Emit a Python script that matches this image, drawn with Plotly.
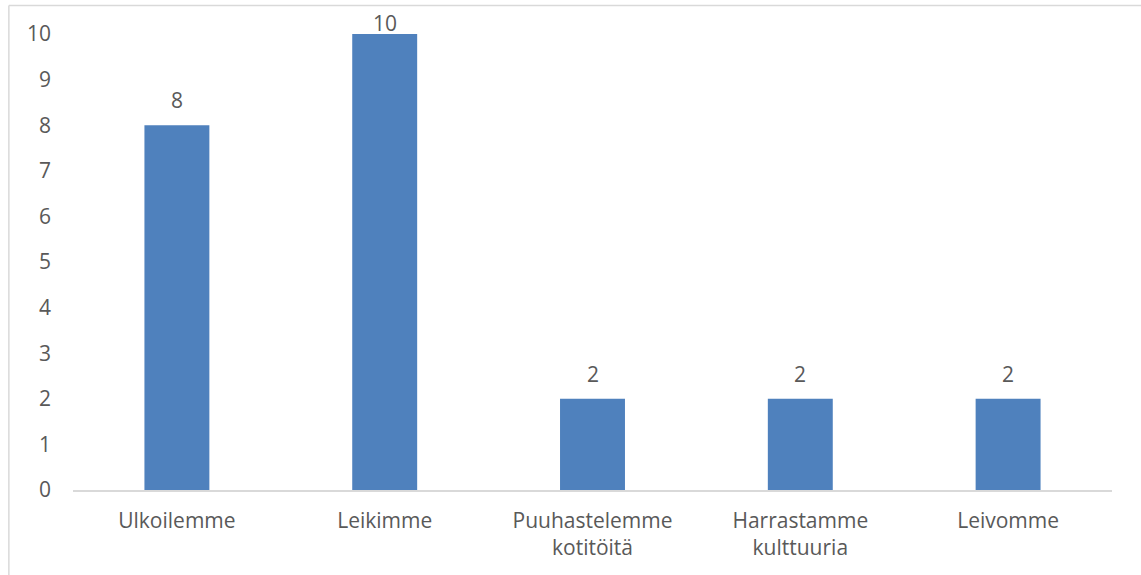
import plotly.graph_objects as go

categories = ["Ulkoilemme", "Leikimme", "Puuhastelemme<br>kotitöitä", "Harrastamme<br>kulttuuria", "Leivomme"]
values = [8, 10, 2, 2, 2]
y_ticks = list(range(0, 11))

FONT = "Open Sans"
TXT = "#595959"
GRAY = "#d9d9d9"
YMAX = 10

fig = go.Figure()
fig.add_trace(go.Bar(
    x=categories, y=values,
    marker=dict(color="#4f81bd", line=dict(width=0)),
    width=0.3125,
    hoverinfo="x+y",
))

for c, v in zip(categories, values):
    fig.add_annotation(
        x=c, y=v, text=str(v), showarrow=False,
        xref="x", yref="y", yanchor="middle",
        yshift=11 if v >= YMAX else 25,
        font=dict(family=FONT, size=21, color=TXT),
    )

W, H = 1141, 575
L, R, T, B = 72.5, 28.5, 34, 85
pw, ph = W - L - R, H - T - B

def px(xp):
    return (xp - L) / pw

def py(yp):
    return (H - B - yp) / ph

# chart-area frame (top and left edges visible)
fig.add_shape(type="line", xref="paper", yref="paper",
              x0=px(8.3), x1=px(1160), y0=py(5.5), y1=py(5.5),
              line=dict(color=GRAY, width=1.5))
fig.add_shape(type="line", xref="paper", yref="paper",
              x0=px(8.3), x1=px(8.3), y0=py(5.5), y1=py(600),
              line=dict(color=GRAY, width=1.5))

fig.update_layout(
    width=W, height=H,
    margin=dict(l=L, r=R, t=T, b=B, pad=0),
    paper_bgcolor="white", plot_bgcolor="white",
    showlegend=False,
    bargap=0.6875,
    font=dict(family=FONT, size=21, color=TXT),
    xaxis=dict(
        showgrid=False, zeroline=False,
        showline=True, linecolor=GRAY, linewidth=1.5,
        ticks="", tickfont=dict(family=FONT, size=21, color=TXT),
        ticklabelstandoff=11,
        fixedrange=True,
    ),
    yaxis=dict(
        range=[0, YMAX], tickvals=y_ticks,
        showgrid=False, zeroline=False, showline=False,
        ticks="", tickfont=dict(family=FONT, size=21, color=TXT),
        ticklabelstandoff=21,
        fixedrange=True,
    ),
)

fig.write_html("out.html", config={"displayModeBar": False},
               post_script="document.body.style.margin='0';")
